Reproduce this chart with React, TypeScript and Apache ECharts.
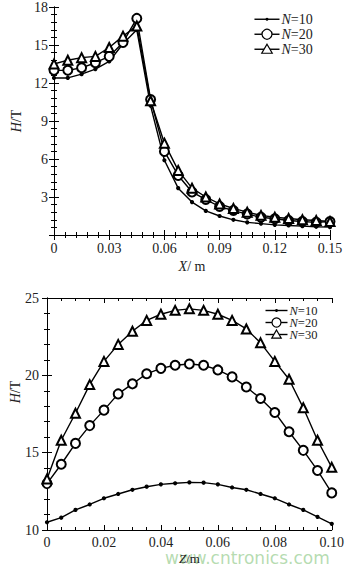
import React, { useEffect, useRef } from "react";
import * as echarts from "echarts";

// Top chart: H along X
const topX = [0, 0.0075, 0.015, 0.0225, 0.03, 0.0375, 0.045, 0.0525, 0.06, 0.0675, 0.075, 0.0825, 0.09, 0.0975, 0.105, 0.1125, 0.12, 0.1275, 0.135, 0.1425, 0.15];
const topN10 = [12.4, 12.4, 12.7, 13.1, 13.7, 15.1, 16.2, 10.2, 5.9, 3.7, 2.6, 1.9, 1.5, 1.2, 1.0, 0.9, 0.8, 0.75, 0.7, 0.65, 0.62];
const topN20 = [13.0, 13.0, 13.2, 13.6, 14.1, 15.2, 17.1, 10.7, 6.6, 4.7, 3.4, 2.8, 2.25, 1.93, 1.65, 1.4, 1.28, 1.15, 1.07, 1.0, 1.07];
const topN30 = [13.5, 13.8, 14.0, 14.1, 14.8, 15.7, 16.5, 10.6, 7.25, 5.1, 3.7, 3.0, 2.45, 2.1, 1.8, 1.55, 1.4, 1.3, 1.2, 1.15, 1.07];

// Bottom chart: H along Z
const botX = [0, 0.005, 0.01, 0.015, 0.02, 0.025, 0.03, 0.035, 0.04, 0.045, 0.05, 0.055, 0.06, 0.065, 0.07, 0.075, 0.08, 0.085, 0.09, 0.095, 0.1];
const botN10 = [10.5, 10.8, 11.3, 11.65, 12.05, 12.33, 12.6, 12.8, 12.95, 13.02, 13.08, 13.06, 12.95, 12.75, 12.6, 12.33, 12.05, 11.65, 11.3, 10.85, 10.4];
const botN20 = [13.0, 14.25, 15.6, 16.75, 17.75, 18.8, 19.45, 20.1, 20.45, 20.65, 20.73, 20.65, 20.35, 19.9, 19.25, 18.5, 17.6, 16.35, 15.15, 13.85, 12.4];
const botN30 = [13.3, 15.8, 17.55, 19.4, 20.9, 22.0, 22.85, 23.55, 23.95, 24.2, 24.3, 24.2, 23.95, 23.55, 23.0, 22.1, 20.9, 19.75, 17.9, 15.8, 14.05];

const seriesNames = ["N=10", "N=20", "N=30"];

const FONT = "Liberation Serif";

export default function App() {
  const ref = useRef<HTMLDivElement>(null);
  useEffect(() => {
    if (!ref.current) return;
    const chart = echarts.init(ref.current, null, { renderer: "svg" });
    const pairs = (xs: number[], ys: number[]) => xs.map((x, i) => [x, ys[i]]);

    const axisBase = (extra: any) => ({
      type: "value",
      axisLine: { show: true, lineStyle: { color: "#000", width: 1 } },
      axisTick: { show: true, inside: true, length: 5, lineStyle: { color: "#000" } },
      minorTick: { show: true, splitNumber: 5, length: 3, lineStyle: { color: "#000" } },
      splitLine: { show: false },
      ...extra,
    });
    const mirror = (extra: any) =>
      axisBase({ axisLabel: { show: false }, ...extra });

    const labelStyle = { color: "#222", fontFamily: FONT, fontSize: 14 };

    const topXMain = axisBase({
      gridIndex: 0, min: 0, max: 0.15, interval: 0.03, position: "bottom",
      axisLabel: { ...labelStyle, margin: 6, formatter: (v: number) => (v === 0 ? "0" : String(+v.toFixed(2))) },
      name: "{i|X}/ m", nameLocation: "middle", nameGap: 24,
      nameTextStyle: { fontFamily: FONT, fontSize: 14, color: "#222", rich: { i: { fontStyle: "italic", fontFamily: FONT, fontSize: 14, color: "#222" } } },
    });
    const topXMirror = mirror({ gridIndex: 0, min: 0, max: 0.15, interval: 0.03, position: "top" });
    const topYMain = axisBase({
      gridIndex: 0, min: 0, max: 18, interval: 3, position: "left",
      axisLabel: { ...labelStyle, margin: 6, formatter: (v: number) => (v === 0 ? "" : String(v)) },
      name: "{i|H}/T", nameLocation: "middle", nameGap: 30, nameRotate: 90,
      nameTextStyle: { fontFamily: FONT, fontSize: 14, color: "#222", rich: { i: { fontStyle: "italic", fontFamily: FONT, fontSize: 14, color: "#222" } } },
    });
    const topYMirror = mirror({ gridIndex: 0, min: 0, max: 18, interval: 3, position: "right" });

    const botXMain = axisBase({
      gridIndex: 1, min: 0, max: 0.1, interval: 0.02, position: "bottom",
      minorTick: { show: true, splitNumber: 4, length: 3, lineStyle: { color: "#000" } },
      axisLabel: { ...labelStyle, margin: 5, formatter: (v: number) => (v === 0 ? "0" : v.toFixed(2)) },
      name: "{i|Z}/m", nameLocation: "middle", nameGap: 22,
      nameTextStyle: { fontFamily: FONT, fontSize: 13, color: "#222", rich: { i: { fontStyle: "italic", fontFamily: FONT, fontSize: 13, color: "#222" } } },
    });
    const botXMirror = mirror({
      gridIndex: 1, min: 0, max: 0.1, interval: 0.02, position: "top",
      minorTick: { show: true, splitNumber: 4, length: 3, lineStyle: { color: "#000" } },
    });
    const botYMain = axisBase({
      gridIndex: 1, min: 10, max: 25, interval: 5, position: "left",
      axisLabel: { ...labelStyle, margin: 8 },
    });
    const botYMirror = mirror({ gridIndex: 1, min: 10, max: 25, interval: 5, position: "right" });

    const lineSeries = (name: string, data: number[][], idx: number, kind: number, symSize: number) => ({
      name,
      type: "line",
      xAxisIndex: idx,
      yAxisIndex: idx,
      data,
      symbol: kind === 0 ? "circle" : kind === 1 ? "emptyCircle" : "emptyTriangle",
      symbolSize: kind === 0 ? 3 : symSize,
      showAllSymbol: true,
      color: "#000",
      lineStyle: { color: "#000", width: 1.4, type: "solid" },
      itemStyle: { color: "#000", borderColor: "#000", borderWidth: 1.2 },
      emphasis: { disabled: true },
    });

    const richFor = (size: number, lh?: number) => ({
      i: { fontStyle: "italic", fontFamily: FONT, fontSize: size, fill: "#222", lineHeight: lh ?? size + 2 },
      n: { fontFamily: FONT, fontSize: size, fill: "#222", lineHeight: lh ?? size + 2 },
    });
    const legendFmt = (name: string) => `{i|N}{n|${name.slice(1)}}`;

    const legendGroup = (left: number, top: number, step: number, lineW: number, size: number, r: number) => ({
      type: "group", left, top,
      children: [0, 1, 2].map((k) => {
        const cx = lineW / 2;
        const cy = 6;
        return {
          type: "group", x: 0, y: k * step,
          children: [
            { type: "line", shape: { x1: 0, y1: cy, x2: lineW, y2: cy }, style: { stroke: "#000", lineWidth: 1.4 } },
            k === 0
              ? { type: "circle", shape: { cx, cy, r: 1.5 }, style: { fill: "#000" } }
              : k === 1
              ? { type: "circle", shape: { cx, cy, r }, style: { fill: "#fff", stroke: "#000", lineWidth: 1.2 } }
              : { type: "polygon", shape: { points: [[cx, cy - r], [cx + r * 1.05, cy + r * 0.8], [cx - r * 1.05, cy + r * 0.8]] }, style: { fill: "#fff", stroke: "#000", lineWidth: 1.2 } },
            {
              type: "text", x: lineW + 2, y: cy,
              style: {
                text: legendFmt(seriesNames[k]), verticalAlign: "middle", align: "left",
                font: `${size}px ${FONT}`, fill: "#222", lineHeight: step - 0.5,
                rich: richFor(size, step - 0.5),
              },
            },
          ],
        };
      }),
    });

    const option: any = {
      animation: false,
      textStyle: { fontFamily: FONT },
      grid: [
        { left: 54, right: 17, top: 5, bottom: 333 },
        { left: 47, right: 14, top: 298, bottom: 38 },
      ],
      xAxis: [topXMain, botXMain, topXMirror, botXMirror],
      yAxis: [topYMain, botYMain, topYMirror, botYMirror],
      graphic: [
        legendGroup(252, 12, 15, 25, 14, 5),
        legendGroup(263, 304, 12, 22, 12.5, 4.5),
        {
          type: "text",
          x: 15, y: 392, rotation: Math.PI / 2,
          style: {
            text: "{i|H}/T", align: "center", verticalAlign: "middle",
            font: `14px ${FONT}`, fill: "#222",
            rich: richFor(14),
          },
        },
        {
          type: "text", x: 165, y: 558,
          style: {
            text: "www.cntronics.com", verticalAlign: "middle", align: "left",
            font: "17px 'DejaVu Sans'", fill: "rgba(120, 190, 110, 0.55)",
          },
        },
      ],
      series: [
        lineSeries("N=10", pairs(topX, topN10), 0, 0, 3),
        lineSeries("N=20", pairs(topX, topN20), 0, 1, 9),
        lineSeries("N=30", pairs(topX, topN30), 0, 2, 9),
        lineSeries("bN=10", pairs(botX, botN10), 1, 0, 3),
        lineSeries("bN=20", pairs(botX, botN20), 1, 1, 9),
        lineSeries("bN=30", pairs(botX, botN30), 1, 2, 9),
      ],
    };
    chart.setOption(option);
    return () => chart.dispose();
  }, []);
  return (
    <div
      ref={ref}
      style={{ position: "fixed", left: 0, top: 0, width: 347, height: 568, background: "#fff" }}
    />
  );
}
